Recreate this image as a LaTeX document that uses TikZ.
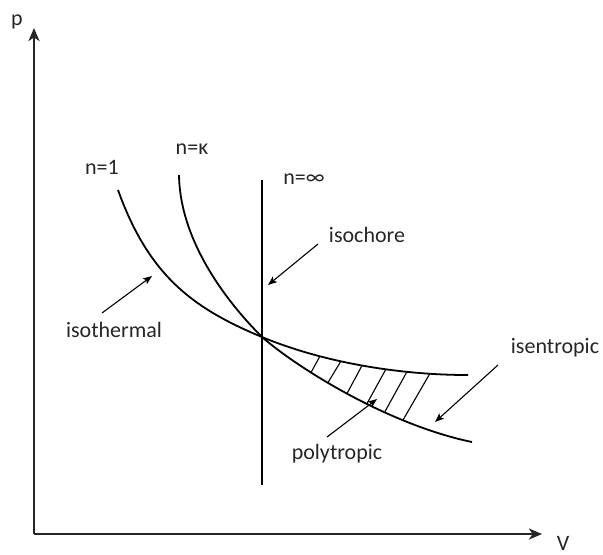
\documentclass[tikz,border=0pt]{standalone}
\usepackage{fontspec}
\setmainfont{Carlito}
\usetikzlibrary{arrows.meta}
\begin{document}
\begin{tikzpicture}[x=0.5pt,y=-0.5pt,
  lbl/.style={font=\fontsize{11}{13}\selectfont, inner sep=0pt, text=black!85},
  axis/.style={line width=1.3pt, black!85, -{Stealth[length=6.5pt,width=5.5pt,inset=1.8pt]}},
  curve/.style={line width=0.9pt, black},
  hatch/.style={line width=0.55pt, black},
  pointer/.style={line width=0.55pt, black, -{Stealth[length=4.5pt,width=3.5pt,inset=1pt]}}]
\useasboundingbox (0,0) rectangle (603,554);
% axes
\coordinate (O) at (34,534);
\coordinate (ptip) at (34,28);
\coordinate (vtip) at (542,534);
\draw[axis] (O) -- (ptip);
\draw[axis] (O) -- (vtip);
\node[lbl] (p) at (17,22) {p};
\node[lbl] (V) at (563,543) {V};
% curves
\coordinate (X) at (262,337);
\coordinate (isoT0) at (118,190);
\coordinate (isoT1) at (468,375);
\coordinate (isoS0) at (179,175);
\coordinate (isoS1) at (472,442);
\draw[curve] (isoT0) .. controls (148.6,275) and (192,308) .. (X)
                     .. controls (322,362) and (398,375) .. (isoT1);
\draw[curve] (isoS0) .. controls (180,240) and (225,300) .. (X)
                     .. controls (300,370) and (390,425) .. (isoS1);
\coordinate (V0) at (262,180);
\coordinate (V1) at (262,485);
\draw[curve] (V0) -- (V1);
% hatching
\draw[hatch] (320,356) -- (311,372.5);
\draw[hatch] (341,361) -- (328,382.5);
\draw[hatch] (362,365.5) -- (347,393.5);
\draw[hatch] (386,369) -- (367,403.5);
\draw[hatch] (407,371.6) -- (385,411.5);
\draw[hatch] (430,373.3) -- (403,420);
% labels
\node[lbl] (n1) at (102,167) {n=1};
\node[lbl] (nk) at (192,149) {n=κ};
\node[lbl] (ninf) at (304,179) {n=∞};
\node[lbl] (isochore) at (367,235) {isochore};
\node[lbl] (isothermal) at (114,330) {isothermal};
\node[lbl] (polytropic) at (337,454) {polytropic};
\node[lbl] (isentropic) at (555,348) {isentropic};
% pointers
\coordinate (a1s) at (102,313); \coordinate (a1e) at (152,276);
\coordinate (a2s) at (318,244); \coordinate (a2e) at (268,285);
\coordinate (a3s) at (327,437); \coordinate (a3e) at (377,399);
\coordinate (a4s) at (498,365); \coordinate (a4e) at (435,422);
\draw[pointer] (a1s) -- (a1e);
\draw[pointer] (a2s) -- (a2e);
\draw[pointer] (a3s) -- (a3e);
\draw[pointer] (a4s) -- (a4e);
\end{tikzpicture}
\end{document}
